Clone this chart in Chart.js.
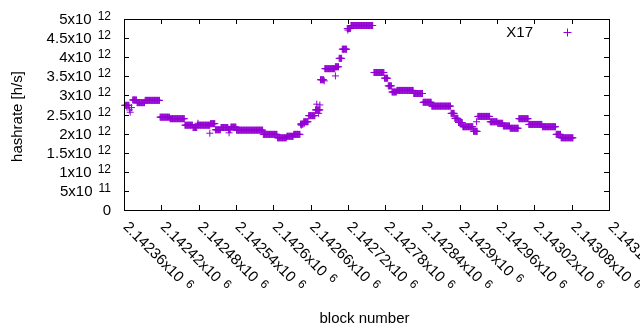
<!DOCTYPE html>
<html>
<head>
<meta charset="utf-8">
<script src="https://cdn.jsdelivr.net/npm/chart.js@4"></script>
<style>
  html, body { margin: 0; padding: 0; background: #fff; }
  #wrap { width: 640px; height: 330px; }
</style>
</head>
<body>
<div id="wrap"><canvas id="hashChart" width="640" height="330"></canvas></div>
<script>
// runs of consecutive blocks that share one hashrate estimate (x10^12 h/s)
const runFrom = [2142361, 2142374, 2142381, 2142394, 2142418, 2142434, 2142458, 2142471, 2142478, 2142499,
                 2142507, 2142516, 2142528, 2142532, 2142541, 2142584, 2142607, 2142622, 2142633, 2142644,
                 2142649, 2142657, 2142668, 2142676, 2142683, 2142700, 2142706, 2142711, 2142719, 2142725,
                 2142762, 2142779, 2142785, 2142791, 2142799, 2142826, 2142841, 2142855, 2142886, 2142892,
                 2142898, 2142905, 2142922, 2142929, 2142949, 2142961, 2142970, 2142981, 2142995, 2143011,
                 2143033, 2143055, 2143063];
const runTo   = [2142368, 2142380, 2142393, 2142417, 2142433, 2142457, 2142470, 2142477, 2142498, 2142506,
                 2142515, 2142527, 2142531, 2142540, 2142583, 2142606, 2142621, 2142632, 2142643, 2142648,
                 2142656, 2142667, 2142675, 2142681, 2142699, 2142705, 2142710, 2142718, 2142724, 2142760,
                 2142778, 2142784, 2142790, 2142798, 2142825, 2142840, 2142854, 2142885, 2142891, 2142897,
                 2142904, 2142921, 2142928, 2142948, 2142960, 2142969, 2142980, 2142994, 2143010, 2143032,
                 2143054, 2143062, 2143082];
const runRate = [2.74, 2.88, 2.81, 2.87, 2.43, 2.39, 2.22, 2.16, 2.22, 2.26,
                 2.10, 2.16, 2.11, 2.17, 2.09, 1.98, 1.89, 1.93, 1.98, 2.25,
                 2.31, 2.47, 2.62, 3.41, 3.70, 3.75, 3.97, 4.21, 4.75, 4.83,
                 3.60, 3.45, 3.25, 3.09, 3.13, 3.05, 2.82, 2.72, 2.53, 2.40,
                 2.29, 2.18, 2.06, 2.45, 2.31, 2.27, 2.20, 2.14, 2.39, 2.24,
                 2.18, 1.98, 1.89];

// lone blocks off their run
const spotBlock = [2142369, 2142370, 2142372, 2142479, 2142498, 2142529, 2142645, 2142650, 2142670, 2142673,
                   2142675, 2142682, 2142700, 2142720, 2142927];
const spotRate  = [2.62, 2.56, 2.68, 2.27, 2.01, 2.02, 2.22, 2.27, 2.77, 2.53,
                   2.75, 3.38, 3.51, 4.71, 2.31];

const xTicks = [2142360, 2142420, 2142480, 2142540, 2142600, 2142660, 2142720,
                2142780, 2142840, 2142900, 2142960, 2143020, 2143080, 2143140];
const xTickText = ['2.14236x10', '2.14242x10', '2.14248x10', '2.14254x10', '2.1426x10', '2.14266x10', '2.14272x10',
                   '2.14278x10', '2.14284x10', '2.1429x10', '2.14296x10', '2.14302x10', '2.14308x10', '2.14314x10'];
const xTickPower = '6';

const yTicks = [0, 0.5e12, 1e12, 1.5e12, 2e12, 2.5e12, 3e12, 3.5e12, 4e12, 4.5e12, 5e12];
const yTickText = ['0', '5x10', '1x10', '1.5x10', '2x10', '2.5x10', '3x10', '3.5x10', '4x10', '4.5x10', '5x10'];
const yTickPower = ['', '11', '12', '12', '12', '12', '12', '12', '12', '12', '12'];

const points = [];
runFrom.forEach((from, i) => {
    for (let b = from; b <= runTo[i]; b++) points.push({ x: b, y: runRate[i] * 1e12 });
});
spotBlock.forEach((b, i) => points.push({ x: b, y: spotRate[i] * 1e12 }));

const FONT = '"Liberation Sans", Arial, sans-serif';
const PURPLE = '#9400d3';

// gnuplot style frame: inward ticks, superscript labels, key on the right
const gnuplotFrame = {
    id: 'gnuplotFrame',
    afterDraw(chart) {
        const { ctx, chartArea: a, scales } = chart;
        ctx.save();
        ctx.strokeStyle = '#000';
        ctx.fillStyle = '#000';
        ctx.lineWidth = 1;
        ctx.strokeRect(a.left + 0.5, a.top + 0.5, a.right - a.left, a.bottom - a.top);

        ctx.beginPath();
        yTicks.forEach(v => {
            const y = Math.round(scales.y.getPixelForValue(v)) + 0.5;
            ctx.moveTo(a.left, y); ctx.lineTo(a.left + 5, y);
            ctx.moveTo(a.right, y); ctx.lineTo(a.right - 5, y);
        });
        xTicks.forEach(v => {
            const x = Math.round(scales.x.getPixelForValue(v)) + 0.5;
            ctx.moveTo(x, a.bottom); ctx.lineTo(x, a.bottom - 5);
            ctx.moveTo(x, a.top); ctx.lineTo(x, a.top + 5);
        });
        ctx.stroke();

        // y tick labels
        ctx.textAlign = 'right';
        ctx.textBaseline = 'alphabetic';
        yTicks.forEach((v, i) => {
            const y = scales.y.getPixelForValue(v);
            let right = a.left - 13;
            if (yTickPower[i]) {
                ctx.font = '12px ' + FONT;
                ctx.fillText(yTickPower[i], right, y + 1);
                right -= ctx.measureText(yTickPower[i]).width + 6;
            }
            ctx.font = '15px ' + FONT;
            ctx.fillText(yTickText[i], right, y + 5);
        });

        // x tick labels, turned 45 degrees clockwise
        ctx.textAlign = 'left';
        xTicks.forEach((v, i) => {
            const x = scales.x.getPixelForValue(v);
            ctx.save();
            ctx.translate(x + 2, a.bottom + 14);
            ctx.rotate(Math.PI / 4);
            ctx.font = '15px ' + FONT;
            ctx.fillText(xTickText[i], 0, 5);
            const w = ctx.measureText(xTickText[i]).width;
            ctx.font = '12px ' + FONT;
            ctx.fillText(xTickPower, w + 6, 1);
            ctx.restore();
        });

        // axis titles
        ctx.font = '15px ' + FONT;
        ctx.textAlign = 'center';
        ctx.fillText('block number', (a.left + a.right) / 2 - 2, 323);
        ctx.save();
        ctx.translate(22, (a.top + a.bottom) / 2 + 2);
        ctx.rotate(-Math.PI / 2);
        ctx.fillText('hashrate [h/s]', 0, 0);
        ctx.restore();

        // key
        ctx.textAlign = 'right';
        ctx.fillText(chart.data.datasets[0].label, 533, 37);
        ctx.strokeStyle = PURPLE;
        ctx.beginPath();
        ctx.moveTo(563.5, 32.5); ctx.lineTo(571.5, 32.5);
        ctx.moveTo(567.5, 28.5); ctx.lineTo(567.5, 36.5);
        ctx.stroke();
        ctx.restore();
    }
};

new Chart(document.getElementById('hashChart'), {
    type: 'scatter',
    data: {
        datasets: [{
            label: 'X17',
            data: points,
            pointStyle: 'cross',
            pointRadius: 3.5,
            pointHoverRadius: 3.5,
            borderWidth: 1,
            borderColor: PURPLE,
            backgroundColor: PURPLE,
            clip: false,
        }],
    },
    options: {
        responsive: false,
        animation: false,
        devicePixelRatio: 1,
        layout: { padding: { left: 124, right: 31, top: 19, bottom: 120 } },
        scales: {
            x: { type: 'linear', min: 2142360, max: 2143140, display: false },
            y: { min: 0, max: 5e12, display: false },
        },
        plugins: {
            legend: { display: false },
            tooltip: { enabled: false },
        },
        events: [],
    },
    plugins: [gnuplotFrame],
});
</script>
</body>
</html>
